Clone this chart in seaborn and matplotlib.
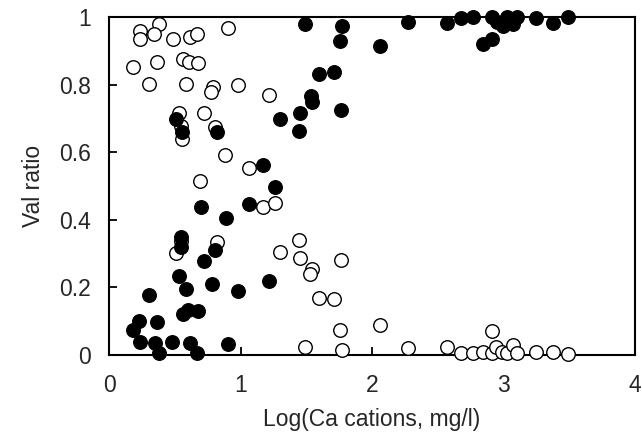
import numpy as np
import pandas as pd
import matplotlib
matplotlib.use("Agg")
import matplotlib.pyplot as plt
import seaborn as sns
from matplotlib.ticker import FormatStrFormatter

# filled circles
filled_x = [0.51, 0.555, 0.821, 1.171, 1.262, 1.30, 0.70, 1.065, 0.89, 0.548, 0.548,
            0.722, 0.806, 0.532, 0.586, 0.783, 0.981, 1.217, 0.304, 0.563, 0.60,
            0.677, 0.228, 0.183, 0.365, 0.236, 0.35, 0.479, 0.616, 0.905, 0.38,
            0.669, 1.49, 1.772, 1.757, 2.061, 2.274, 2.57, 1.597, 1.711, 1.536,
            1.544, 1.452, 1.764, 1.445, 2.677, 2.768, 2.913, 2.95, 2.996, 3.027,
            3.072, 3.103, 3.247, 3.376, 3.49, 2.844, 2.913, 3.05]
filled_y = [0.698, 0.66, 0.66, 0.562, 0.497, 0.698, 0.438, 0.447, 0.405, 0.349, 0.320,
            0.278, 0.311, 0.234, 0.195, 0.210, 0.189, 0.219, 0.178, 0.121, 0.133,
            0.130, 0.101, 0.074, 0.098, 0.038, 0.036, 0.038, 0.036, 0.033, 0.006,
            0.006, 0.979, 0.973, 0.929, 0.914, 0.985, 0.982, 0.831, 0.837, 0.766,
            0.749, 0.716, 0.725, 0.663, 0.997, 1.0, 1.0, 0.985, 0.973, 1.0,
            0.979, 1.0, 0.997, 0.982, 1.0, 0.920, 0.935, 0.991]

# open circles
open_x = [0.236, 0.236, 0.38, 0.342, 0.487, 0.616, 0.669, 0.905, 0.183, 0.365,
          0.563, 0.608, 0.677, 0.304, 0.586, 0.791, 0.776, 0.981, 1.217, 0.532,
          0.722, 0.548, 0.555, 0.806, 0.882, 1.065, 0.692, 1.171, 1.262, 0.548,
          0.51, 0.821, 1.30, 1.445, 1.452, 1.544, 1.529, 1.764, 1.597, 1.711,
          1.757, 2.061, 1.49, 1.772, 2.274, 2.57, 2.677, 2.768, 2.844, 2.913,
          2.913, 2.943, 2.99, 3.027, 3.072, 3.103, 3.247, 3.376, 3.49]
open_y = [0.959, 0.935, 0.979, 0.950, 0.935, 0.941, 0.950, 0.967, 0.852, 0.867,
          0.876, 0.867, 0.864, 0.802, 0.802, 0.793, 0.778, 0.799, 0.769, 0.716,
          0.716, 0.678, 0.639, 0.675, 0.592, 0.553, 0.515, 0.438, 0.45, 0.337,
          0.302, 0.334, 0.305, 0.340, 0.287, 0.254, 0.240, 0.281, 0.169, 0.166,
          0.074, 0.089, 0.024, 0.015, 0.021, 0.024, 0.006, 0.006, 0.009, 0.071,
          0.006, 0.024, 0.009, 0.006, 0.03, 0.006, 0.009, 0.009, 0.003]

df_filled = pd.DataFrame({"x": filled_x, "y": filled_y})
df_open = pd.DataFrame({"x": open_x, "y": open_y})

sns.set_style("ticks")
plt.rcParams['font.family'] = ['Liberation Sans', 'DejaVu Sans']

fig, ax = plt.subplots(figsize=(6.42, 4.37), dpi=100)
fig.subplots_adjust(left=0.17, right=0.989, top=0.961, bottom=0.188)

sns.scatterplot(data=df_open, x="x", y="y", ax=ax, s=95, facecolor="white",
                edgecolor="black", linewidth=1.0, clip_on=False, zorder=3)
sns.scatterplot(data=df_filled, x="x", y="y", ax=ax, s=95, color="black",
                edgecolor="black", linewidth=1.0, clip_on=False, zorder=4)

ax.set_xlim(0, 4)
ax.set_ylim(0, 1)
ax.set_xticks([0, 1, 2, 3, 4])
ax.set_yticks([0, 0.2, 0.4, 0.6, 0.8, 1.0])
ax.yaxis.set_major_formatter(FormatStrFormatter('%g'))
ax.tick_params(direction="in", length=6, width=1.3, labelsize=16.5, color="black")
ax.tick_params(axis="y", pad=13)
ax.tick_params(axis="x", pad=14)
for sp in ax.spines.values():
    sp.set_linewidth(1.5)
    sp.set_color("black")
    sp.set_visible(True)

ax.set_xlabel("Log(Ca cations, mg/l)", fontsize=16.5, labelpad=8)
ax.set_ylabel("Val ratio", fontsize=16.5, labelpad=10)

fig.savefig("out.png", dpi=100)
